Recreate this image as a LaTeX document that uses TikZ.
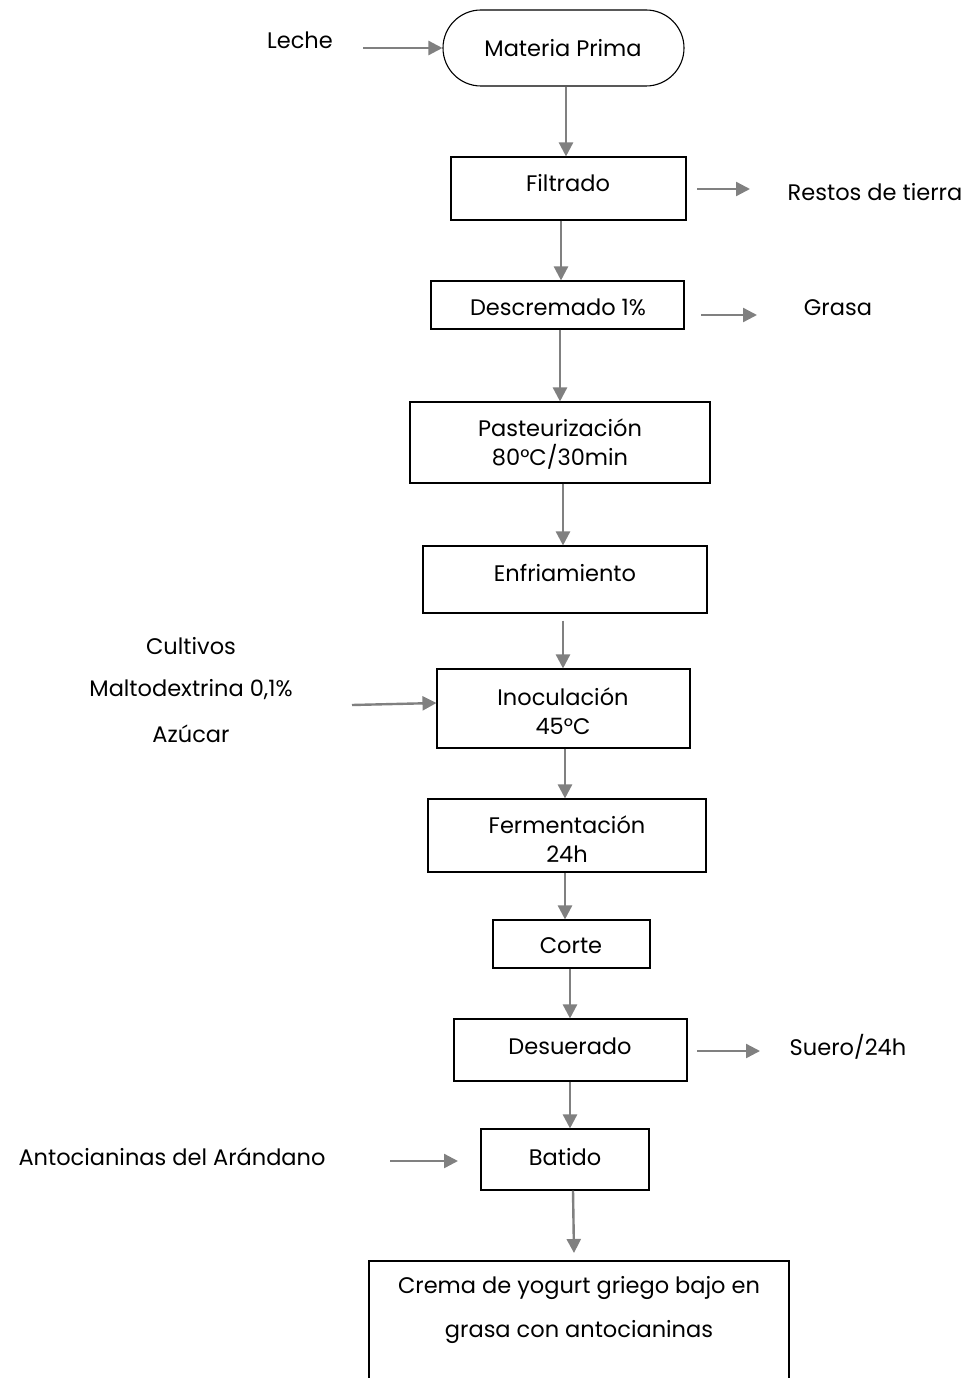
\documentclass[tikz,border=0pt]{standalone}
\usepackage{fontspec}
\setmainfont{Poppins}
\usetikzlibrary{arrows.meta}
\definecolor{arrgray}{RGB}{128,128,128}
\tikzset{
  box/.style={draw=black, line width=1.1pt, inner sep=0pt},
  lbl/.style={inner sep=0pt, font=\fontsize{22.5}{29}\selectfont},
  arr/.style={draw=arrgray, line width=2.4pt, -{Triangle[length=14pt,width=14pt]}},
}
\begin{document}
\begin{tikzpicture}[x=1pt,y=-1pt]
\useasboundingbox (0,0) rectangle (967,1378);
% boxes
\node[box, rounded corners=38pt, minimum width=241pt, minimum height=76pt] (mp) at (563.5,48) {};
\node[lbl] (mpt) at (563,48) {Materia Prima};
\node[box, minimum width=235pt, minimum height=63pt] (fil) at (568.5,188.5) {};
\node[lbl] (filt) at (568,183) {Filtrado};
\node[box, minimum width=253pt, minimum height=48pt] (des) at (557.5,305) {};
\node[lbl] (dest) at (558,307) {Descremado 1\%};
\node[box, minimum width=300pt, minimum height=81pt] (pas) at (560,442.5) {};
\node[lbl, align=center] (past) at (560,444) {Pasteurización\\80°C/30min};
\node[box, minimum width=284pt, minimum height=67pt] (enf) at (565,579.5) {};
\node[lbl] (enft) at (565,573) {Enfriamiento};
\node[box, minimum width=253pt, minimum height=79pt] (ino) at (563.5,708.5) {};
\node[lbl, align=center] (inot) at (563,711) {Inoculación\\45°C};
\node[box, minimum width=278pt, minimum height=73pt] (fer) at (567,835.5) {};
\node[lbl, align=center] (fert) at (567,839) {Fermentación\\24h};
\node[box, minimum width=157pt, minimum height=48pt] (cor) at (571.5,944) {};
\node[lbl] (cort) at (571,946) {Corte};
\node[box, minimum width=233pt, minimum height=62pt] (dsu) at (570.5,1050) {};
\node[lbl] (dsut) at (570,1046) {Desuerado};
\node[box, minimum width=168pt, minimum height=61pt] (bat) at (565,1159.5) {};
\node[lbl] (batt) at (565,1157) {Batido};
\coordinate (finTL) at (369,1261);
\coordinate (finTR) at (789,1261);
\draw[black, line width=1.1pt] (369,1380) -- (finTL) -- (finTR) -- (789,1380);
\node[lbl] (fin1) at (579,1288) {Crema de yogurt griego bajo en};
\node[lbl] (fin2) at (579,1332) {grasa con antocianinas};
% side texts
\node[lbl] (leche) at (300,40) {Leche};
\node[lbl] (restos) at (875,192) {Restos de tierra};
\node[lbl] (grasa) at (838,308) {Grasa};
\node[lbl] (cult) at (191,646) {Cultivos};
\node[lbl] (malt) at (191,690) {Maltodextrina 0,1\%};
\node[lbl] (azu) at (191,734) {Azúcar};
\node[lbl] (suero) at (848,1047) {Suero/24h};
\node[lbl] (anto) at (172,1157) {Antocianinas del Arándano};
% side arrow coordinates
\coordinate (lecheE) at (363,48);
\coordinate (restosW) at (750,189);
\coordinate (filE) at (697,189);
\coordinate (grasaW) at (757,315);
\coordinate (desE) at (701,315);
\coordinate (maltE) at (352,705);
\coordinate (sueroW) at (760,1051);
\coordinate (dsuE) at (697,1051);
\coordinate (antoE) at (390,1161);
\coordinate (finN) at (574,1253);
% arrows
\draw[arr] (lecheE) -- (mp.west |- lecheE);
\draw[arr] (mp.south -| 566,0) -- (fil.north -| 566,0);
\draw[arr] (filE) -- (restosW);
\draw[arr] (fil.south -| 561,0) -- (des.north -| 561,0);
\draw[arr] (desE) -- (grasaW);
\draw[arr] (des.south -| 560,0) -- (pas.north -| 560,0);
\draw[arr] (pas.south -| 563,0) -- (enf.north -| 563,0);
\draw[arr] ([yshift=-7pt]enf.south -| 563,0) -- (ino.north -| 563,0);
\draw[arr] (maltE) -- (ino.west |- 0,703);
\draw[arr] (ino.south -| 565,0) -- (fer.north -| 565,0);
\draw[arr] (fer.south -| 565,0) -- (cor.north -| 565,0);
\draw[arr] (cor.south -| 570,0) -- (dsu.north -| 570,0);
\draw[arr] (dsuE) -- (sueroW);
\draw[arr] (dsu.south -| 570,0) -- (bat.north -| 570,0);
\draw[arr] (antoE) -- (458,1161);
\draw[arr] (bat.south -| 573,0) -- (finN);
\end{tikzpicture}
\end{document}
